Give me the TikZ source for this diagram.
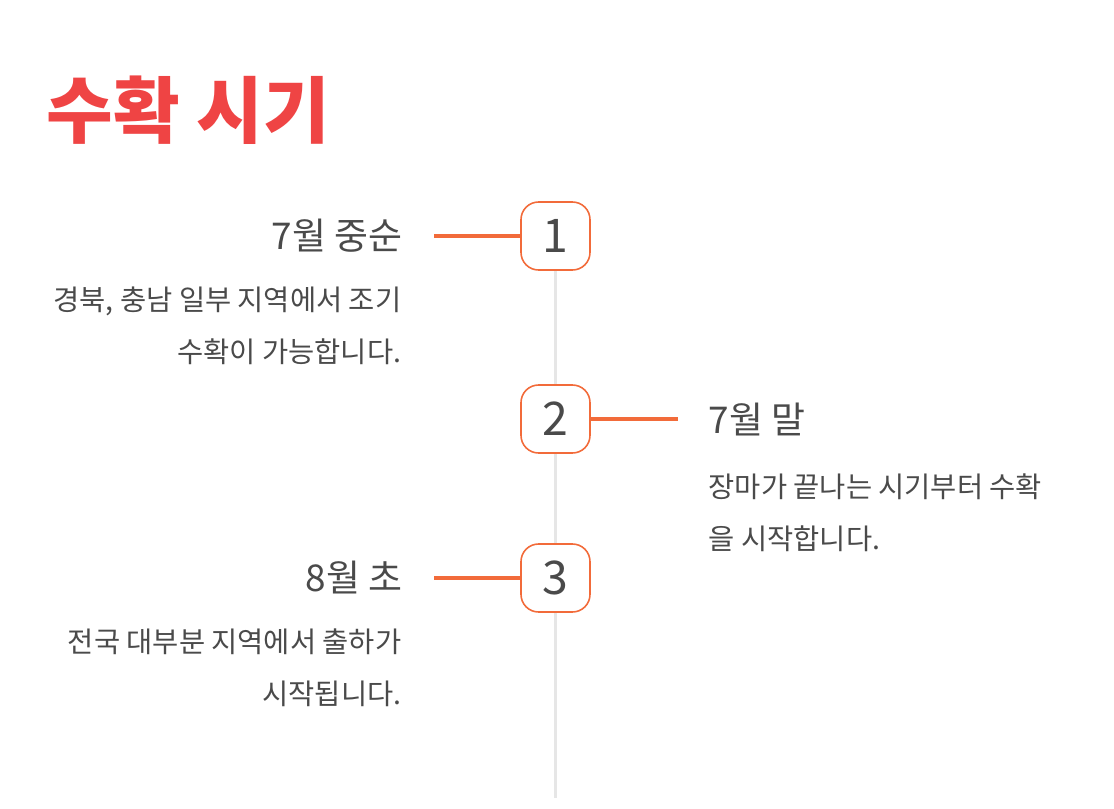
\documentclass[tikz,border=0pt]{standalone}
\usepackage{fontspec}
\setmainfont{Noto Sans CJK KR}
\usepackage{xcolor}
\usetikzlibrary{positioning}
\definecolor{titlered}{HTML}{EF4444}
\definecolor{accent}{HTML}{F26B3A}
\definecolor{ink}{HTML}{4A4A4A}
\definecolor{spinegray}{HTML}{E6E6E6}

\begin{document}
\begin{tikzpicture}[
  every node/.style={text=ink,inner sep=0pt},
  badge/.style={draw=accent,line width=0.45pt,fill=white,rounded corners=5pt,minimum width=6.9mm,minimum height=6.8mm,font=\fontsize{13.2}{13}\selectfont},
  when/.style={font=\fontsize{10.5}{12}\selectfont},
  info/.style={font=\fontsize{8.1}{14.8}\selectfont},
  link/.style={draw=accent,line width=1pt},
  spine/.style={draw=spinegray,line width=1.1pt}
]
  \useasboundingbox (0,0) rectangle (11.14,-8.08);
  \node[anchor=west,text=titlered,font=\fontsize{20.6}{21}\selectfont\bfseries] (title) at (0.46,-1.10) {수확 시기};

  % timeline badges
  \node[badge] (b1) at (5.555,-2.36) {1};
  \node[badge] (b2) at (5.555,-4.19) {2};
  \node[badge] (b3) at (5.555,-5.78) {3};
  \coordinate (end) at (5.555,-7.98);
  \draw[spine] (b1.south) -- (b2.north);
  \draw[spine] (b2.south) -- (b3.north);
  \draw[spine] (b3.south) -- (end);

  % left: 7월 중순
  \node[when,anchor=east] (d1) at (4.03,-2.36) {7월 중순};
  \node[info,anchor=east,align=right] (t1) at (4.02,-3.26) {경북, 충남 일부 지역에서 조기\\수확이 가능합니다.};
  \coordinate (l1) at (4.34,-2.36);
  \draw[link] (l1) -- (b1.west);

  % right: 7월 말
  \node[when,anchor=west] (d2) at (7.08,-4.19) {7월 말};
  \node[info,anchor=west,align=left] (t2) at (7.08,-5.13) {장마가 끝나는 시기부터 수확\\을 시작합니다.};
  \coordinate (l2) at (6.78,-4.19);
  \draw[link] (b2.east) -- (l2);

  % left: 8월 초
  \node[when,anchor=east] (d3) at (4.03,-5.78) {8월 초};
  \node[info,anchor=east,align=right] (t3) at (4.02,-6.68) {전국 대부분 지역에서 출하가\\시작됩니다.};
  \coordinate (l3) at (4.34,-5.78);
  \draw[link] (l3) -- (b3.west);
\end{tikzpicture}
\end{document}
